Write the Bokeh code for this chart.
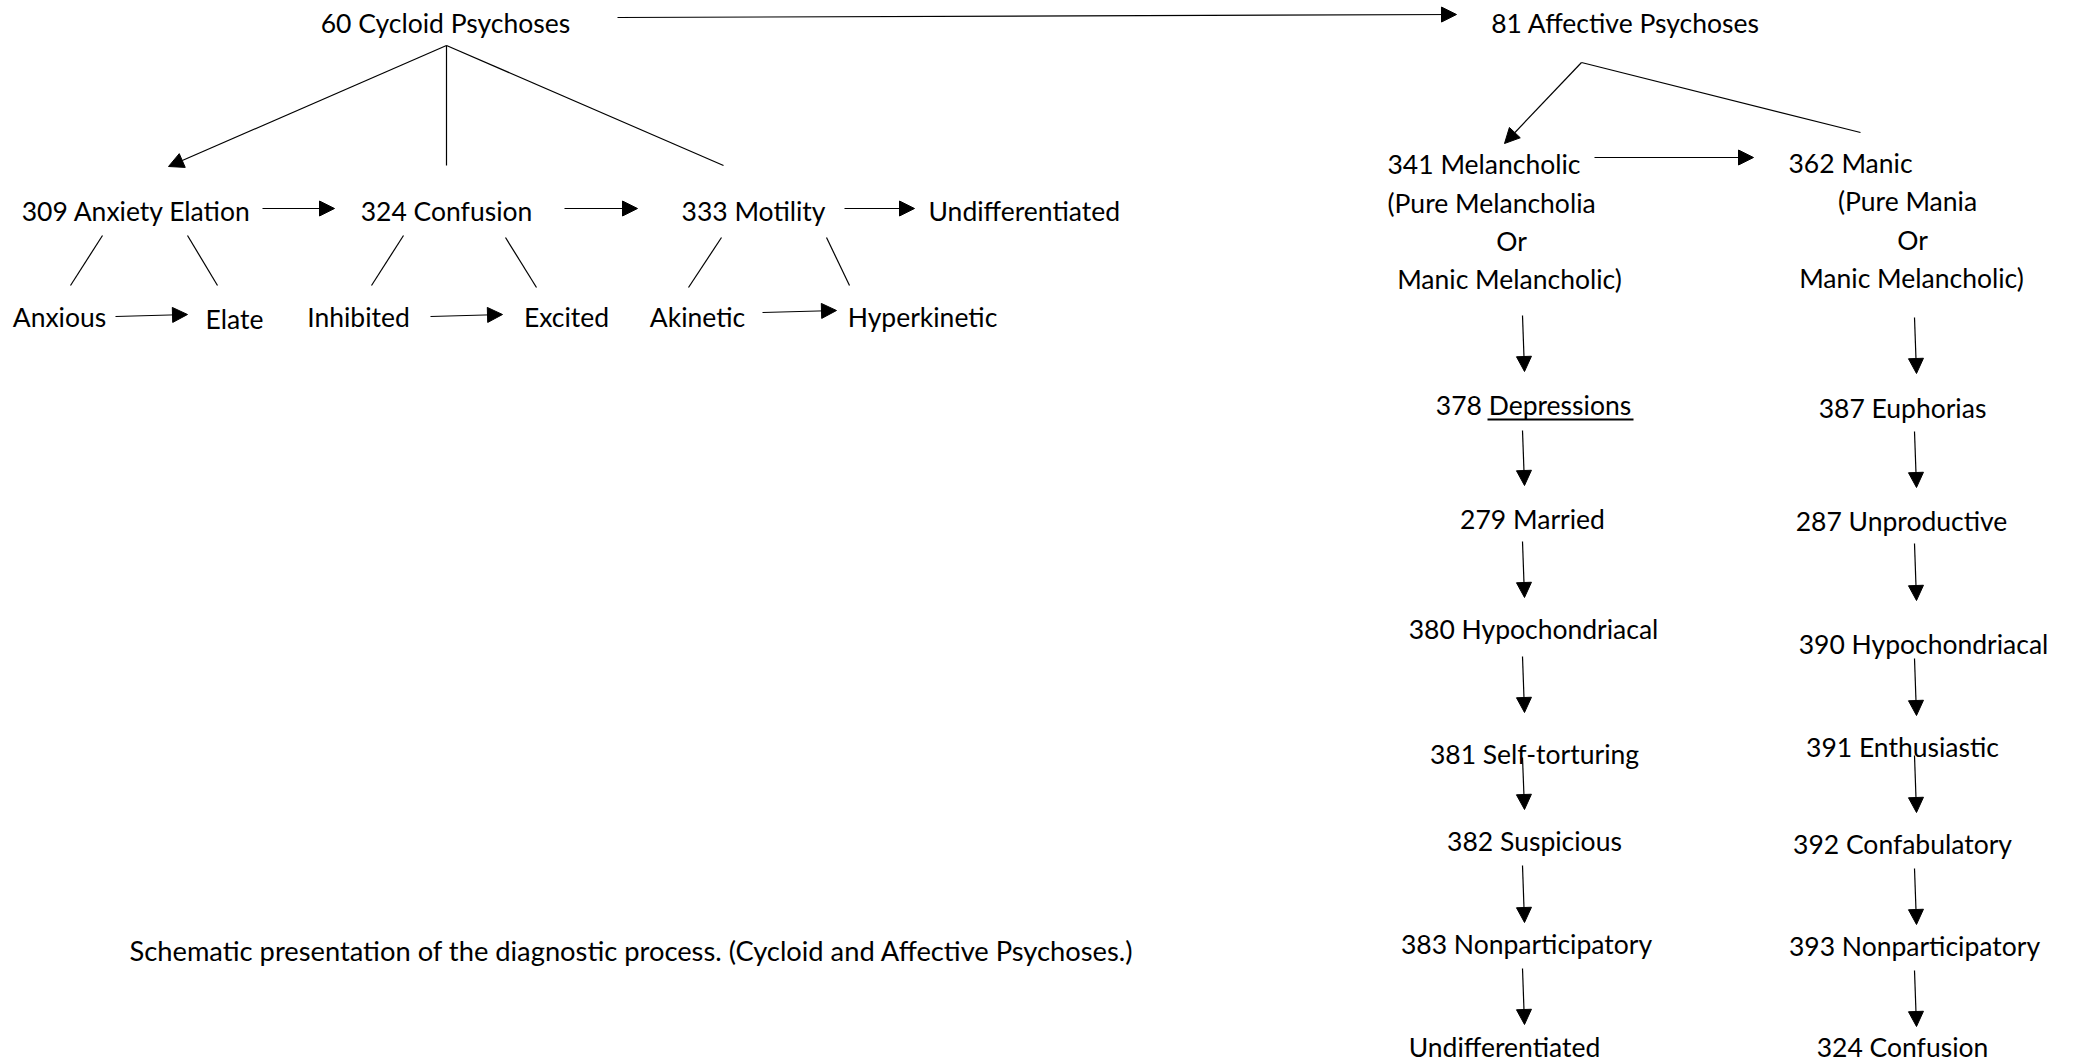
from bokeh.plotting import figure
from bokeh.models import ColumnDataSource, Arrow, NormalHead, Range1d
from bokeh.core.properties import value
from bokeh.embed import file_html
from bokeh.resources import INLINE

# ---- content (texts of the schematic) ----
labels = [
    "60 Cycloid Psychoses", "309 Anxiety Elation", "324 Confusion", "333 Motility",
    "Anxious", "Elate", "Inhibited", "Excited", "Akinetic", "Hyperkinetic",
    "81 Affective Psychoses", "Or", "Manic Melancholic)", "(Pure Mania", "Or",
    "Manic Melancholic)", "378 Depressions", "279 Married", "380 Hypochondriacal",
    "381 Self-torturing", "382 Suspicious", "383 Nonparticipatory", "Undifferentiated",
    "387 Euphorias", "287 Unproductive", "390 Hypochondriacal", "391 Enthusiastic",
    "392 Confabulatory", "393 Nonparticipatory", "324 Confusion",
]
left_labels = [
    "Undifferentiated", "341 Melancholic", "(Pure Melancholia", "362 Manic",
]
caption = ["Schematic presentation of the diagnostic process. (Cycloid and Affective Psychoses.)"]

# ---- layout (page pixel positions) ----
label_x = [445, 136, 446, 753, 59, 234, 358, 566, 697, 922,
           1625, 1511, 1509, 1907, 1912, 1911, 1533, 1532, 1533,
           1534, 1534, 1526, 1504, 1902, 1901, 1923, 1902, 1902, 1914, 1902]
label_y = [22, 210, 210, 210, 316, 318, 316, 316, 316, 316,
           22, 240, 278, 200, 239, 277, 404, 518, 628,
           753, 840, 943, 1046, 407, 520, 643, 746, 843, 945, 1046]
left_x = [928, 1387, 1387, 1788]
left_y = [210, 163, 202, 162]
caption_x = [129]
caption_y = [950]

arrow_x0 = [617, 446, 262, 564, 844, 115, 430, 762, 1581, 1594,
            1522, 1522, 1522, 1522, 1522, 1522, 1522,
            1914, 1914, 1914, 1914, 1914, 1914, 1914]
arrow_y0 = [17, 45, 208, 208, 208, 316, 316, 312, 62, 157,
            315, 430, 541, 656, 757, 865, 968,
            317, 431, 543, 658, 755, 868, 970]
arrow_x1 = [1456, 168, 334, 637, 914, 187, 502, 836, 1504, 1753,
            1524, 1524, 1524, 1524, 1524, 1524, 1524,
            1916, 1916, 1916, 1916, 1916, 1916, 1916]
arrow_y1 = [14, 166, 208, 208, 208, 314, 314, 310, 143, 157,
            371, 485, 597, 712, 809, 922, 1024,
            373, 487, 600, 715, 812, 924, 1026]

line_x0 = [446, 446, 1581, 102, 187, 403, 505, 721, 826, 1487]
line_y0 = [45, 45, 62, 235, 235, 235, 237, 237, 237, 419]
line_x1 = [446, 723, 1860, 70, 217, 371, 536, 688, 849, 1633]
line_y1 = [165, 165, 132, 285, 285, 285, 287, 287, 285, 419]
line_w = [1.2, 1.2, 1.2, 1.2, 1.2, 1.2, 1.2, 1.2, 1.2, 2.2]

FONT = "Lato"
FS = "26.5px"

p = figure(width=2073, height=1061, output_backend="svg", toolbar_location=None,
           x_range=Range1d(0, 2073), y_range=Range1d(1061, 0), min_border=0)
p.axis.visible = False
p.grid.visible = False
p.outline_line_color = None
p.background_fill_color = "white"
p.border_fill_color = "white"

p.text(x=label_x, y=label_y, text=labels, text_font=value(FONT), text_font_size=FS,
       text_align="center", text_baseline="middle", text_color="black")
p.text(x=left_x, y=left_y, text=left_labels, text_font=value(FONT), text_font_size=FS,
       text_align="left", text_baseline="middle", text_color="black")
p.text(x=caption_x, y=caption_y, text=caption, text_font=value(FONT), text_font_size="27.3px",
       text_align="left", text_baseline="middle", text_color="black")

p.segment(x0=line_x0, y0=line_y0, x1=line_x1, y1=line_y1, line_color="black",
          line_width=line_w)

asrc = ColumnDataSource(dict(x0=arrow_x0, y0=arrow_y0, x1=arrow_x1, y1=arrow_y1))
p.add_layout(Arrow(end=NormalHead(size=15, fill_color="black", line_color="black", line_width=1),
                   x_start="x0", y_start="y0", x_end="x1", y_end="y1", source=asrc,
                   line_color="black", line_width=1.2))

open("out.html", "w").write(file_html(p, INLINE))
